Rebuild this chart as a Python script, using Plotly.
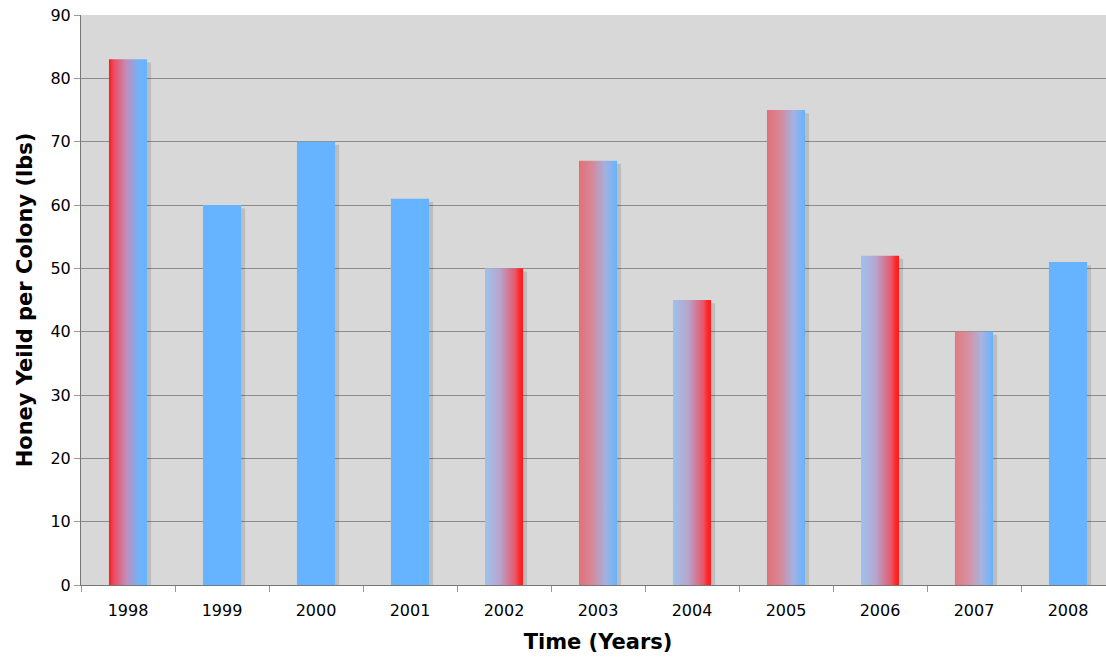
import plotly.graph_objects as go

years = [1998, 1999, 2000, 2001, 2002, 2003, 2004, 2005, 2006, 2007, 2008]
yields = [83, 60, 70, 61, 50, 67, 45, 75, 52, 40, 51]
y_ticks = [0, 10, 20, 30, 40, 50, 60, 70, 80, 90]

BLUE = "#66b3ff"
# fill style per bar (left -> right gradient stops)
styles = [
    [[0, "#ff1a1a"], [0.12, "#ec4a60"], [0.45, "#c38db8"], [0.78, "#72b2f8"], [1, "#66b3ff"]],
    None, None, None,
    [[0, "#9ec2ec"], [0.4, "#b8a4cc"], [0.8, "#e8566a"], [0.9, "#ff2a2a"], [1, "#ff1a1a"]],
    [[0, "#e27078"], [0.35, "#d68898"], [0.7, "#a2b2e2"], [1, "#66b3ff"]],
    [[0, "#9ec2ec"], [0.4, "#b8a4cc"], [0.8, "#e8566a"], [0.9, "#ff2a2a"], [1, "#ff1a1a"]],
    [[0, "#e27078"], [0.35, "#d68898"], [0.7, "#a2b2e2"], [1, "#66b3ff"]],
    [[0, "#9ec2ec"], [0.4, "#b8a4cc"], [0.8, "#e8566a"], [0.9, "#ff2a2a"], [1, "#ff1a1a"]],
    [[0, "#e27a80"], [0.35, "#d890a0"], [0.7, "#a6b4e2"], [1, "#66b3ff"]],
    None,
]

bar_w = 0.405
sh_dx = 0.043
sh_dy = 0.5

fig = go.Figure()

# shadows
for yr, v in zip(years, yields):
    x0, x1 = yr - bar_w / 2 + sh_dx, yr + bar_w / 2 + sh_dx
    fig.add_trace(go.Scatter(
        x=[x0, x1, x1, x0, x0], y=[0, 0, v - sh_dy, v - sh_dy, 0],
        mode="lines", line=dict(width=0), fill="toself",
        fillcolor="rgba(0,0,0,0.12)", hoverinfo="skip", showlegend=False))

# bars
for yr, v, st in zip(years, yields, styles):
    x0, x1 = yr - bar_w / 2, yr + bar_w / 2
    kw = dict(x=[x0, x1, x1, x0, x0], y=[0, 0, v, v, 0],
              mode="lines", line=dict(width=0), fill="toself",
              showlegend=False, name=str(yr))
    if st is None:
        kw["fillcolor"] = BLUE
    else:
        kw["fillgradient"] = dict(type="horizontal", colorscale=st)
    fig.add_trace(go.Scatter(**kw))

fig.update_layout(
    width=1117, height=658,
    margin=dict(l=81, r=2, t=15, b=73),
    paper_bgcolor="white", plot_bgcolor="#d8d8d8",
    font=dict(family="DejaVu Sans", size=16, color="black"),
    xaxis=dict(
        range=[years[0] - 0.5, years[-1] + 0.5],
        tickvals=years, ticktext=[str(y) for y in years],
        tickfont=dict(size=16), ticklabelstandoff=11,
        ticks="", showgrid=False, zeroline=False,
        showline=True, linecolor="#777777", linewidth=1,
        minor=dict(tickvals=[y - 0.5 for y in years] + [years[-1] + 0.5],
                   ticks="outside", ticklen=6, tickcolor="#999999", showgrid=False),
        title=dict(text="<b>Time (Years)</b>", font=dict(size=21), standoff=15),
        automargin=False, fixedrange=True,
    ),
    yaxis=dict(
        range=[0, 90], tickvals=y_ticks,
        tickfont=dict(size=16),
        ticks="outside", ticklen=6, tickcolor="#999999",
        showgrid=True, gridcolor="#8c8c8c", gridwidth=1,
        zeroline=False, showline=True, linecolor="#777777", linewidth=1,
        title=dict(text="<b>Honey Yeild per Colony (lbs)</b>", font=dict(size=21), standoff=12),
        automargin=False, fixedrange=True,
    ),
)

fig.write_html("out.html", config={"displayModeBar": False},
               post_script="document.body.style.margin='0';document.body.style.overflow='hidden';")
